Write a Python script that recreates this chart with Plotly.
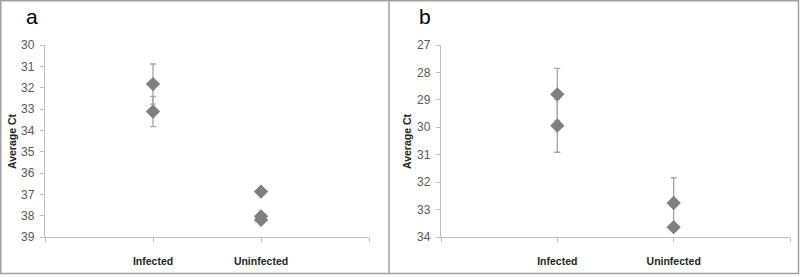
import plotly.graph_objects as go

# ---- data ----
categories = ["Infected", "Uninfected"]
cat_x = [1, 2]

# panel a
a_inf_ct = [31.83, 33.12]
a_inf_err = [0.94, 0.71]
a_uninf_ct = [36.87, 38.03, 38.2]

# panel b
b_inf_ct = [28.80, 29.94]
b_inf_err = [0.95, 0.97]
b_uninf_ct = [32.76, 33.64]
b_uninf_err = [0.92, 0.0]

a_yticks = list(range(30, 40))
b_yticks = list(range(27, 35))

W, H = 800, 277
MARK = "#7f7f7f"
ERR = "#a6a6a6"
AX = "#bfbfbf"
TXT = "#595959"

def px(x):
    return x / W

def py(y):
    return 1 - y / H

fig = go.Figure()

def add_pts(xcat, ys, errs, xa, ya):
    xs = [xcat] * len(ys)
    kw = {}
    if errs is not None:
        kw["error_y"] = dict(type="data", array=errs, visible=True, color=ERR,
                             thickness=1.3, width=3)
    fig.add_trace(go.Scatter(x=xs, y=ys, mode="markers", xaxis=xa, yaxis=ya,
                             marker=dict(symbol="diamond", size=11, color=MARK,
                                         line=dict(width=0)),
                             showlegend=False, hoverinfo="y", **kw))

add_pts(cat_x[0], a_inf_ct, a_inf_err, "x", "y")
add_pts(cat_x[1], a_uninf_ct, None, "x", "y")
add_pts(cat_x[0], b_inf_ct, b_inf_err, "x2", "y2")
add_pts(cat_x[1], b_uninf_ct, b_uninf_err, "x2", "y2")

xcommon = dict(range=[0, 3], tickvals=[0, 1, 2, 3],
               ticktext=[""] + [f"<b>{c}</b>" for c in categories] + [""],
               showgrid=False, zeroline=False, showline=True, linecolor=AX,
               linewidth=1.3, ticks="outside", ticklen=4, tickcolor=AX,
               tickfont=dict(family="Liberation Sans, Arial", size=10.5, color="#262626"),
               ticklabelstandoff=10, fixedrange=True, automargin=False)
ycommon = dict(autorange=False, showgrid=False, zeroline=False, showline=True,
               linecolor=AX, linewidth=1.3, ticks="outside", ticklen=4, tickcolor=AX,
               tickfont=dict(family="Liberation Sans, Arial", size=12, color=TXT),
               ticklabelstandoff=3, fixedrange=True, automargin=False)

fig.update_layout(
    width=W, height=H, margin=dict(l=0, r=0, t=0, b=0, pad=0, autoexpand=False),
    paper_bgcolor="white", plot_bgcolor="white",
    xaxis=dict(domain=[px(45), px(369)], anchor="y", **xcommon),
    yaxis=dict(domain=[py(237), py(45)], anchor="x", range=[39, 30],
               tickvals=a_yticks, **ycommon),
    xaxis2=dict(domain=[px(441), px(790)], anchor="y2", **xcommon),
    yaxis2=dict(domain=[py(237), py(45)], anchor="x2", range=[34, 27],
                tickvals=b_yticks, **ycommon),
)

# panel labels and axis titles
for xc, letter in [(32, "a"), (425, "b")]:
    fig.add_annotation(x=px(xc), y=py(16), xref="paper", yref="paper", text=letter,
                       xanchor="center", yanchor="middle", showarrow=False,
                       font=dict(family="Liberation Sans, Arial", size=21, color="black"))
for xc in [12, 407]:
    fig.add_annotation(x=px(xc), y=py(141), xref="paper", yref="paper",
                       text="<b>Average Ct</b>", textangle=-90, showarrow=False,
                       xanchor="center", yanchor="middle",
                       font=dict(family="Liberation Sans, Arial", size=10.5, color="#262626"))

# borders
BORDER = "#a0a0a0"
fig.add_shape(type="rect", xref="paper", yref="paper", x0=px(0.75), x1=px(798.5),
              y0=py(273.5), y1=py(0.75), line=dict(color=BORDER, width=1.5))
fig.add_shape(type="line", xref="paper", yref="paper", x0=px(389), x1=px(389),
              y0=py(273.5), y1=py(0.75), line=dict(color=BORDER, width=1.5))

fig.write_html("out.html", config={"displayModeBar": False},
               post_script="document.body.style.margin='0';document.body.style.padding='0';")
